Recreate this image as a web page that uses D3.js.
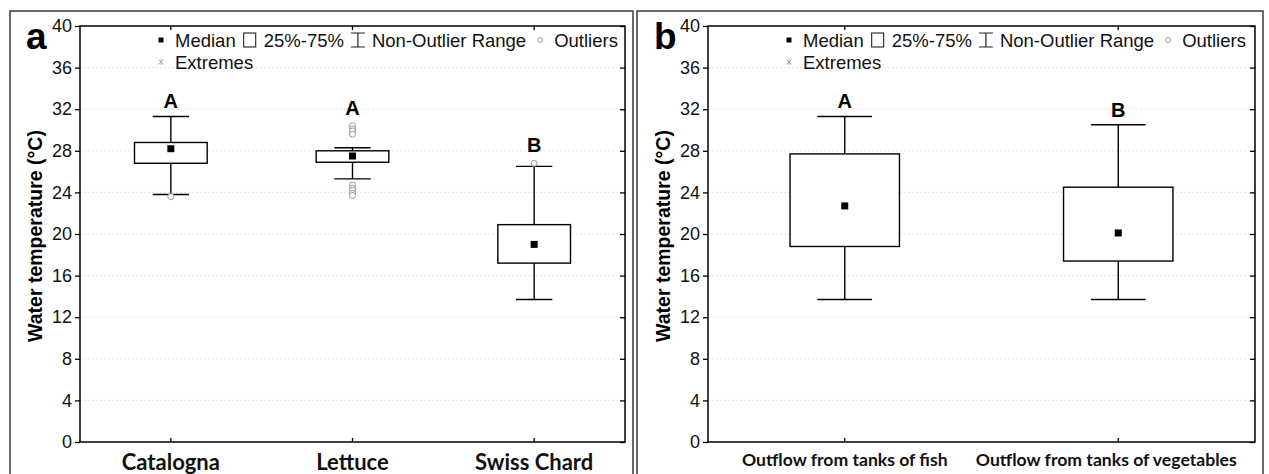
<!DOCTYPE html>
<html>
<head>
<meta charset="utf-8">
<script src="https://cdn.jsdelivr.net/npm/d3@7"></script>
<style>
  body { margin: 0; background: #fff; }
  svg { display: block; }
</style>
</head>
<body>
<svg id="chart" width="1269" height="474"></svg>
<script>
const ancho = 1269;
const alto = 474;

// ticks del eje Y (comunes a los dos paneles)
const yTicks = [0, 4, 8, 12, 16, 20, 24, 28, 32, 36, 40];

// panel a
const catA = ["Catalogna", "Lettuce", "Swiss Chard"];
const minA = [23.8, 25.3, 13.7];
const q1A = [26.8, 26.9, 17.2];
const medA = [28.2, 27.5, 19.0];
const q3A = [28.8, 28.0, 20.9];
const maxA = [31.3, 28.3, 26.5];
const outA = [[23.6], [30.4, 30.1, 29.9, 29.6, 24.7, 24.4, 24.2, 23.9, 23.7], [26.8]];
const letrasA = ["A", "A", "B"];

// panel b
const catB = ["Outflow from tanks of fish", "Outflow from tanks of vegetables"];
const minB = [13.7, 13.7];
const q1B = [18.8, 17.4];
const medB = [22.7, 20.1];
const q3B = [27.7, 24.5];
const maxB = [31.3, 30.5];
const outB = [[], []];
const letrasB = ["A", "B"];

const leyenda = ["Median", "25%-75%", "Non-Outlier Range", "Outliers"];

const svg = d3.select("#chart").attr("viewBox", `0 0 ${ancho} ${alto}`);

function dibujarPanel(cfg) {
  const g = svg.append("g");
  const { izq, der, arriba, abajo } = cfg;

  // marco exterior del panel
  g.append("rect")
    .attr("x", cfg.marco[0]).attr("y", 11)
    .attr("width", cfg.marco[1] - cfg.marco[0]).attr("height", 480)
    .attr("fill", "none").attr("stroke", "#3a3a3a").attr("stroke-width", 1.5);

  const y = d3.scaleLinear().domain([0, 40]).range([abajo, arriba]);
  const x = d3.scaleBand().domain(cfg.cats).range([izq, der]);
  const bw = x.bandwidth();

  // rejilla
  g.append("g").selectAll("line")
    .data(yTicks.filter(t => t > 0 && t < 40))
    .join("line")
    .attr("x1", izq).attr("x2", der)
    .attr("y1", d => y(d)).attr("y2", d => y(d))
    .attr("stroke", "#e4e4e4").attr("stroke-dasharray", "2 2");

  // ejes
  const ejeY = g.append("g")
    .attr("transform", `translate(${izq},0)`)
    .call(d3.axisLeft(y).tickValues(yTicks).tickSize(5).tickPadding(3).tickSizeOuter(0));
  ejeY.select(".domain").remove();
  ejeY.selectAll("line").attr("stroke", "#000").attr("stroke-width", 1.3);
  ejeY.selectAll("text")
    .attr("font-family", "Liberation Sans, Arial, sans-serif")
    .attr("font-size", 18).attr("fill", "#111");

  const ejeDer = g.append("g")
    .attr("transform", `translate(${der},0)`)
    .call(d3.axisRight(y).tickValues(yTicks).tickSize(-5).tickFormat("").tickSizeOuter(0));
  ejeDer.select(".domain").remove();
  ejeDer.selectAll("line").attr("stroke", "#000").attr("stroke-width", 1.3);

  const ejeX = g.append("g")
    .attr("transform", `translate(0,${abajo})`)
    .call(d3.axisBottom(x).tickSizeInner(-4).tickSizeOuter(0).tickPadding(cfg.padX));
  ejeX.select(".domain").remove();
  ejeX.selectAll("line").attr("stroke", "#000").attr("stroke-width", 1.3);
  ejeX.selectAll("text")
    .attr("font-family", "Lato, Open Sans, sans-serif")
    .attr("font-weight", 700)
    .attr("font-size", cfg.fuenteX).attr("fill", "#111")
    .attr("dx", (d, i) => cfg.dxX[i]);

  const ejeTop = g.append("g")
    .attr("transform", `translate(0,${arriba})`)
    .call(d3.axisTop(x).tickSizeInner(-4).tickSizeOuter(0).tickFormat(""));
  ejeTop.select(".domain").remove();
  ejeTop.selectAll("line").attr("stroke", "#000").attr("stroke-width", 1.3);

  // marco del área de datos
  g.append("rect")
    .attr("x", izq).attr("y", arriba)
    .attr("width", der - izq).attr("height", abajo - arriba)
    .attr("fill", "none").attr("stroke", "#000").attr("stroke-width", 1.5);

  const filas = cfg.cats.map((c, i) => ({
    cat: c, min: cfg.min[i], q1: cfg.q1[i], med: cfg.med[i], q3: cfg.q3[i],
    max: cfg.max[i], out: cfg.out[i], letra: cfg.letras[i]
  }));

  const cajas = g.append("g").selectAll("g").data(filas).join("g")
    .attr("transform", d => `translate(${x(d.cat) + bw / 2},0)`);

  // bigotes
  cajas.append("line")
    .attr("x1", 0).attr("x2", 0)
    .attr("y1", d => y(d.min)).attr("y2", d => y(d.max))
    .attr("stroke", "#000").attr("stroke-width", 1.4);
  cajas.selectAll("line.tope").data(d => [d.min, d.max]).join("line")
    .attr("class", "tope")
    .attr("x1", -bw * 0.1).attr("x2", bw * 0.1)
    .attr("y1", d => y(d)).attr("y2", d => y(d))
    .attr("stroke", "#000").attr("stroke-width", 1.4);

  // caja 25%-75%
  cajas.append("rect")
    .attr("x", -bw * 0.2).attr("width", bw * 0.4)
    .attr("y", d => y(d.q3)).attr("height", d => y(d.q1) - y(d.q3))
    .attr("fill", "#fff").attr("stroke", "#000").attr("stroke-width", 1.4);

  // mediana
  cajas.append("rect")
    .attr("x", -3.5).attr("width", 7)
    .attr("y", d => y(d.med) - 3.5).attr("height", 7)
    .attr("fill", "#000");

  // atípicos
  cajas.selectAll("circle").data(d => d.out).join("circle")
    .attr("cx", 0).attr("cy", d => y(d)).attr("r", 3)
    .attr("fill", "#fff").attr("stroke", "#999").attr("stroke-width", 1);

  // letras de significancia
  cajas.append("text")
    .attr("text-anchor", "middle")
    .attr("y", d => {
      const top = d3.max([d.max, ...d.out]);
      return y(top) - (top > d.max ? 11 : 8);
    })
    .attr("font-family", "Liberation Sans, Arial, sans-serif")
    .attr("font-weight", 700).attr("font-size", 20)
    .text(d => d.letra);

  // título del eje Y
  g.append("text")
    .attr("transform", `translate(${izq - 38},${(arriba + abajo) / 2 + 2}) rotate(-90)`)
    .attr("text-anchor", "middle")
    .attr("font-family", "Liberation Sans, Arial, sans-serif")
    .attr("font-weight", 700).attr("font-size", 19.5)
    .text("Water temperature (°C)");

  // letra del panel
  g.append("text")
    .attr("x", izq - 54).attr("y", 49)
    .attr("font-family", "Liberation Sans, Arial, sans-serif")
    .attr("font-weight", 700).attr("font-size", 37)
    .text(cfg.panel);

  // leyenda
  const ley = g.append("g").attr("font-family", "Liberation Sans, Arial, sans-serif")
    .attr("font-size", 18.5).attr("fill", "#111");
  let cursor = izq + 81;
  const yl = 40;
  leyenda.forEach((txt, i) => {
    if (i === 0) {
      ley.append("rect").attr("x", cursor - 2.5).attr("y", yl - 2.5)
        .attr("width", 5).attr("height", 5).attr("fill", "#000");
    } else if (i === 1) {
      ley.append("rect").attr("x", cursor - 6).attr("y", yl - 7)
        .attr("width", 12).attr("height", 14)
        .attr("fill", "#fff").attr("stroke", "#222").attr("stroke-width", 1.1);
    } else if (i === 2) {
      ley.append("path")
        .attr("d", `M${cursor - 7},${yl - 7}H${cursor + 7}M${cursor},${yl - 7}V${yl + 7}M${cursor - 7},${yl + 7}H${cursor + 7}`)
        .attr("stroke", "#222").attr("stroke-width", 1.2).attr("fill", "none");
    } else {
      ley.append("circle").attr("cx", cursor).attr("cy", yl).attr("r", 2.5)
        .attr("fill", "#fff").attr("stroke", "#999");
    }
    const t = ley.append("text").attr("x", cursor + 14).attr("y", yl + 6.5).text(txt);
    cursor = cursor + 14 + t.node().getComputedTextLength() + 14;
  });
  // segunda fila: Extremes
  const xe = izq + 81, ye = 62;
  ley.append("path")
    .attr("d", `M${xe - 2.5},${ye - 2.5}L${xe + 2.5},${ye + 2.5}M${xe + 2.5},${ye - 2.5}L${xe - 2.5},${ye + 2.5}M${xe},${ye - 3}V${ye + 3}`)
    .attr("stroke", "#aaa").attr("stroke-width", 1);
  ley.append("text").attr("x", xe + 14).attr("y", ye + 6.5).text("Extremes");
}

dibujarPanel({
  panel: "a", marco: [10, 633], izq: 80, der: 625, arriba: 26, abajo: 442,
  cats: catA, min: minA, q1: q1A, med: medA, q3: q3A, max: maxA, out: outA, letras: letrasA,
  fuenteX: 22, padX: 12, dxX: [0, 0, 0]
});

dibujarPanel({
  panel: "b", marco: [637, 1263], izq: 708, der: 1255, arriba: 26, abajo: 442,
  cats: catB, min: minB, q1: q1B, med: medB, q3: q3B, max: maxB, out: outB, letras: letrasB,
  fuenteX: 17.6, padX: 12, dxX: [0, -12]
});
</script>
</body>
</html>
